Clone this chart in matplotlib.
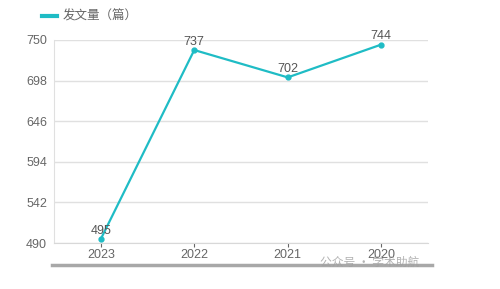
import matplotlib.pyplot as plt
import numpy as np

plt.rcParams['font.family'] = ['Liberation Sans', 'Noto Sans CJK SC', 'DejaVu Sans']

years = ['2023', '2022', '2021', '2020']
counts = [495, 737, 702, 744]
yticks = [490, 542, 594, 646, 698, 750]

teal = '#1fbcc5'
grey = '#666666'

fig = plt.figure(figsize=(5, 2.89), dpi=100)
ax = fig.add_axes([0.108, 0.159, 0.748, 0.703])

x = np.arange(len(years))
ax.plot(x, counts, color=teal, linewidth=1.6, marker='o', markersize=3.5, zorder=3)
for xi, v in zip(x, counts):
    ax.annotate(str(v), (xi, v), xytext=(0, 1.5), textcoords='offset points',
                ha='center', va='bottom', fontsize=9, color='#555555', zorder=4)

ax.set_xlim(-0.5, len(years) - 0.5)
ax.set_ylim(490, 750)
ax.set_yticks(yticks)
ax.set_xticks(x)
ax.set_xticklabels(years)
ax.grid(axis='y', color='#e0e0e0', linewidth=1)
ax.set_axisbelow(True)
for s in ['top', 'right']:
    ax.spines[s].set_visible(False)
ax.spines['left'].set_color('#e0e0e0')
ax.spines['bottom'].set_color('#d8d8d8')
ax.tick_params(axis='y', length=0, colors=grey, labelsize=9, pad=5)
ax.tick_params(axis='x', length=3, color='#e0e0e0', colors=grey, labelsize=9, pad=1)
ax.tick_params(axis='x', colors=grey)

# legend
fig.lines.append(plt.Line2D([42 / 500, 57 / 500], [1 - 16 / 289] * 2,
                            color=teal, linewidth=3, transform=fig.transFigure))
fig.text(63 / 500, 1 - 16 / 289, '发文量（篇）', fontsize=9, color=grey, va='center',
         family=['Noto Sans CJK SC', 'DejaVu Sans'])

# scroll bar under chart
fig.lines.append(plt.Line2D([52 / 500, 432 / 500], [1 - 265 / 289] * 2,
                            color='#a8a8a8', linewidth=2.5, transform=fig.transFigure))

# watermark
fig.text(320 / 500, 1 - 262 / 289, '公众号 · 学术助航', fontsize=8.5, color='#a0a0a0',
         va='center', alpha=0.8, family=['Noto Sans CJK SC', 'DejaVu Sans'])

fig.savefig('out.png', dpi=100)
